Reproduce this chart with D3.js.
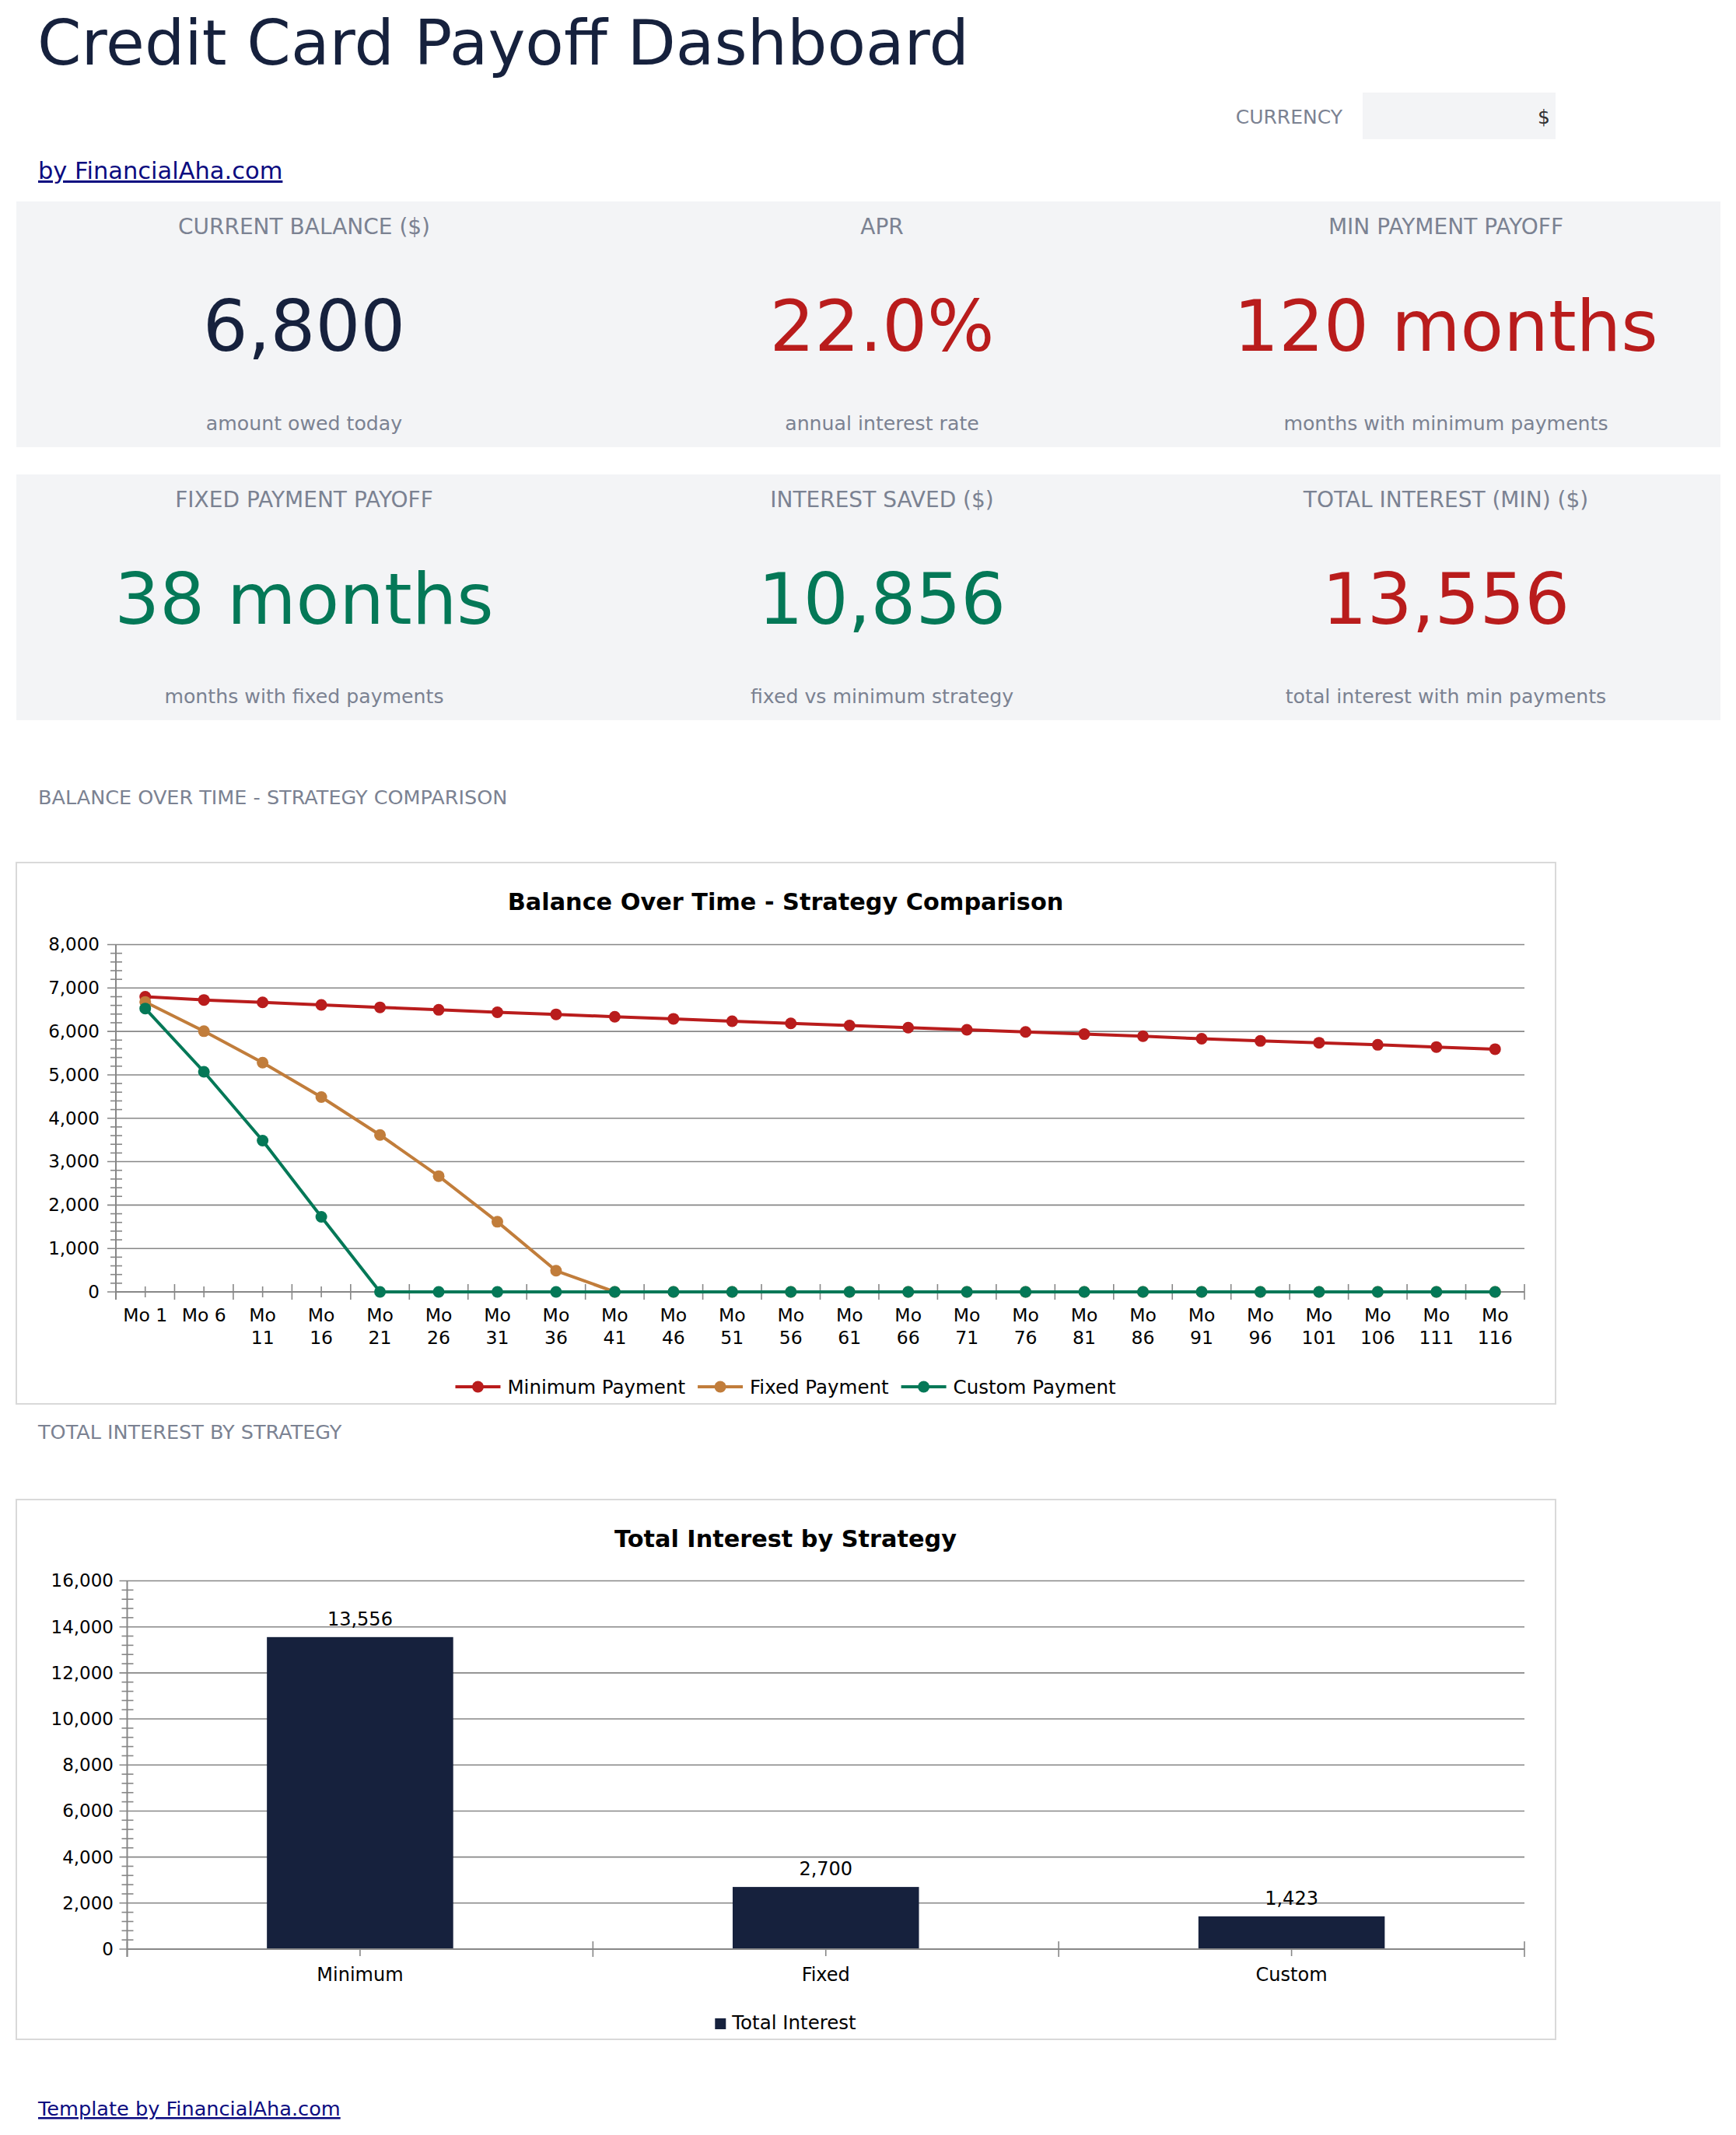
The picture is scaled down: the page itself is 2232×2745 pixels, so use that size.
<!DOCTYPE html>
<html>
<head>
<meta charset="utf-8">
<script src="https://cdn.jsdelivr.net/npm/d3@7"></script>
<style>
  body { margin: 0; background: #fff; }
  svg { display: block; font-family: "DejaVu Sans", sans-serif; }
</style>
</head>
<body>
<svg id="page"></svg>
<script>
// ---- data ----
const currency = "$";

const kpiLabels = ["CURRENT BALANCE ($)", "APR", "MIN PAYMENT PAYOFF",
                   "FIXED PAYMENT PAYOFF", "INTEREST SAVED ($)", "TOTAL INTEREST (MIN) ($)"];
const kpiValues = ["6,800", "22.0%", "120 months", "38 months", "10,856", "13,556"];
const kpiNotes  = ["amount owed today", "annual interest rate", "months with minimum payments",
                   "months with fixed payments", "fixed vs minimum strategy", "total interest with min payments"];

const months = ["Mo 1", "Mo 6", "Mo 11", "Mo 16", "Mo 21", "Mo 26", "Mo 31", "Mo 36",
                "Mo 41", "Mo 46", "Mo 51", "Mo 56", "Mo 61", "Mo 66", "Mo 71", "Mo 76",
                "Mo 81", "Mo 86", "Mo 91", "Mo 96", "Mo 101", "Mo 106", "Mo 111", "Mo 116"];
const minimumPayment = [6800, 6725, 6670, 6612, 6555, 6498, 6441, 6394, 6338, 6291, 6235, 6186,
                        6136, 6087, 6037, 5988, 5938, 5889, 5831, 5781, 5740, 5691, 5641, 5592];
const fixedPayment   = [6680, 6005, 5280, 4488, 3615, 2667, 1615, 488, 0, 0, 0, 0,
                        0, 0, 0, 0, 0, 0, 0, 0, 0, 0, 0, 0];
const customPayment  = [6528, 5070, 3484, 1728, 0, 0, 0, 0, 0, 0, 0, 0,
                        0, 0, 0, 0, 0, 0, 0, 0, 0, 0, 0, 0];
const lineSeries = ["Minimum Payment", "Fixed Payment", "Custom Payment"];

const strategies = ["Minimum", "Fixed", "Custom"];
const totalInterest = [13556, 2700, 1423];

// ---- styles ----
const NAVY = "#16213d", RED = "#b91c1c", GREEN = "#047857", ORANGE = "#c17d3b";
const GRAY = "#7b8292", LINK = "#0c0c80", AXIS = "#878787", CARD = "#f3f4f6";
const kpiColor = [NAVY, RED, RED, GREEN, GREEN, RED];
const seriesColor = [RED, ORANGE, GREEN];

const svg = d3.select("#page").attr("width", 2232).attr("height", 2745);
const fmt = d3.format(",");

// ---- header ----
svg.append("text").attr("x", 48).attr("y", 83).attr("font-size", 81)
  .attr("fill", NAVY).text("Credit Card Payoff Dashboard");
svg.append("text").attr("x", 1726).attr("y", 159).attr("text-anchor", "end")
  .attr("font-size", 25).attr("fill", GRAY).text("CURRENCY");
svg.append("rect").attr("x", 1752).attr("y", 119).attr("width", 248).attr("height", 60).attr("fill", CARD);
svg.append("text").attr("x", 1993).attr("y", 159).attr("text-anchor", "end")
  .attr("font-size", 25).attr("fill", "#333").text(currency);
svg.append("text").attr("x", 49).attr("y", 230).attr("font-size", 30.5).attr("fill", LINK)
  .attr("text-decoration", "underline").text("by FinancialAha.com");

// ---- KPI cards ----
const rowTop = [259, 610];
const colMid = [391, 1134, 1859];
rowTop.forEach(t => svg.append("rect").attr("x", 21).attr("y", t)
  .attr("width", 2191).attr("height", 316).attr("fill", CARD));

kpiLabels.forEach((lab, i) => {
  const t = rowTop[Math.floor(i / 3)], cx = colMid[i % 3];
  svg.append("text").attr("x", cx).attr("y", t + 42).attr("text-anchor", "middle")
    .attr("font-size", 28).attr("fill", GRAY).text(lab);
  svg.append("text").attr("x", cx).attr("y", t + 192).attr("text-anchor", "middle")
    .attr("font-size", 91).attr("fill", kpiColor[i]).text(kpiValues[i]);
  svg.append("text").attr("x", cx).attr("y", t + 294).attr("text-anchor", "middle")
    .attr("font-size", 25.2).attr("fill", GRAY).text(kpiNotes[i]);
});

// ---- section labels ----
svg.append("text").attr("x", 49).attr("y", 1034).attr("font-size", 25.5).attr("fill", GRAY)
  .text("BALANCE OVER TIME - STRATEGY COMPARISON");
svg.append("text").attr("x", 49).attr("y", 1850).attr("font-size", 25.5).attr("fill", GRAY)
  .text("TOTAL INTEREST BY STRATEGY");

function chartBox(top, h, title) {
  svg.append("rect").attr("x", 21).attr("y", top).attr("width", 1979).attr("height", h)
    .attr("fill", "#fff").attr("stroke", "#d9d9d9").attr("stroke-width", 2);
  svg.append("text").attr("x", 1010).attr("y", top + 61).attr("text-anchor", "middle")
    .attr("font-size", 30.3).attr("font-weight", "bold").attr("fill", "#000").text(title);
}

function yAxisWithGrid(g, y, left, right, step, minorStep, tickOut, pad) {
  const max = y.domain()[1];
  const major = d3.range(0, max + 1, step);
  const minor = d3.range(0, max + 1, minorStep).filter(v => v % step !== 0);
  g.append("g").selectAll("line").data(major).join("line")
    .attr("x1", left - tickOut).attr("x2", right).attr("y1", d => y(d)).attr("y2", d => y(d))
    .attr("stroke", AXIS).attr("stroke-width", 1.6);
  g.append("g").selectAll("line").data(minor).join("line")
    .attr("x1", left - 7).attr("x2", left + 8).attr("y1", d => y(d)).attr("y2", d => y(d))
    .attr("stroke", AXIS).attr("stroke-width", 1.6);
  g.append("line").attr("x1", left).attr("x2", left)
    .attr("y1", y(max)).attr("y2", y(0) + 10).attr("stroke", AXIS).attr("stroke-width", 2);
  g.append("g").attr("transform", `translate(${left},0)`)
    .call(d3.axisLeft(y).tickValues(major).tickSize(0).tickPadding(tickOut + pad).tickFormat(fmt))
    .call(a => a.select(".domain").remove())
    .call(a => a.selectAll("text").attr("font-size", 23).attr("fill", "#000")
      .attr("font-family", "DejaVu Sans"));
}

// ---- line chart ----
chartBox(1109, 696, "Balance Over Time - Strategy Comparison");
const lc = svg.append("g");
const x1 = d3.scaleBand().domain(months).range([149, 1960]);
const y1 = d3.scaleLinear().domain([0, 8000]).range([1661, 1214.5]);
yAxisWithGrid(lc, y1, 149, 1960, 1000, 200, 11, 10);

lc.append("line").attr("x1", 149).attr("x2", 1960).attr("y1", y1(0)).attr("y2", y1(0))
  .attr("stroke", AXIS).attr("stroke-width", 2);
const bounds1 = months.map(m => x1(m)).concat([x1.range()[1]]);
lc.append("g").selectAll("line").data(bounds1).join("line")
  .attr("x1", d => d).attr("x2", d => d).attr("y1", y1(0) - 10).attr("y2", y1(0) + 10)
  .attr("stroke", AXIS).attr("stroke-width", 1.6);
lc.append("g").selectAll("line").data(months).join("line")
  .attr("x1", d => x1(d) + x1.bandwidth() / 2).attr("x2", d => x1(d) + x1.bandwidth() / 2)
  .attr("y1", y1(0) - 7).attr("y2", y1(0) + 7).attr("stroke", AXIS).attr("stroke-width", 1.6);

const xl = lc.append("g").selectAll("text").data(months).join("text")
  .attr("x", d => x1(d) + x1.bandwidth() / 2).attr("y", 1699)
  .attr("text-anchor", "middle").attr("font-size", 23.5).attr("fill", "#000");
xl.each(function (d) {
  const el = d3.select(this);
  const parts = d.length > 4 ? d.split(" ") : [d];
  parts.forEach((p, k) => el.append("tspan")
    .attr("x", x1(d) + x1.bandwidth() / 2).attr("dy", k === 0 ? 0 : 29).text(p));
});

const series = [minimumPayment, fixedPayment, customPayment];
const cx1 = (d, i) => x1(months[i]) + x1.bandwidth() / 2;
const line = d3.line().x(cx1).y(d => y1(d));
series.forEach((vals, s) => {
  const g = lc.append("g");
  g.append("path").attr("d", line(vals)).attr("fill", "none")
    .attr("stroke", seriesColor[s]).attr("stroke-width", 4).attr("stroke-linejoin", "round");
  g.selectAll("circle").data(vals).join("circle")
    .attr("cx", cx1).attr("cy", d => y1(d)).attr("r", 7.5).attr("fill", seriesColor[s]);
});

// legend
const lg = lc.append("g");
let lx = 0;
lineSeries.forEach((name, s) => {
  const item = lg.append("g").attr("transform", `translate(${lx},0)`);
  item.append("line").attr("x1", 0).attr("x2", 58).attr("y1", 1783).attr("y2", 1783)
    .attr("stroke", seriesColor[s]).attr("stroke-width", 4);
  item.append("circle").attr("cx", 29).attr("cy", 1783).attr("r", 7.5).attr("fill", seriesColor[s]);
  const t = item.append("text").attr("x", 67).attr("y", 1792).attr("font-size", 24.5)
    .attr("fill", "#000").text(name);
  lx += 67 + t.node().getComputedTextLength() + 16;
});
lx -= 16;
lg.attr("transform", `translate(${1010 - lx / 2},0)`);

// ---- bar chart ----
chartBox(1928, 694, "Total Interest by Strategy");
const bc = svg.append("g");
const x2 = d3.scaleBand().domain(strategies).range([163.5, 1960]).paddingInner(0.6).paddingOuter(0.3);
const y2 = d3.scaleLinear().domain([0, 16000]).range([2506, 2032.5]);
yAxisWithGrid(bc, y2, 163.5, 1960, 2000, 400, 10, 7.5);

bc.selectAll("rect.bar").data(totalInterest).join("rect").attr("class", "bar")
  .attr("x", (d, i) => x2(strategies[i])).attr("width", x2.bandwidth())
  .attr("y", d => y2(d)).attr("height", d => y2(0) - y2(d)).attr("fill", NAVY);

bc.append("line").attr("x1", 163.5).attr("x2", 1960).attr("y1", y2(0)).attr("y2", y2(0))
  .attr("stroke", AXIS).attr("stroke-width", 2);
const catW = (1960 - 163.5) / strategies.length;
const bounds2 = d3.range(strategies.length + 1).map(i => 163.5 + i * catW);
bc.append("g").selectAll("line").data(bounds2).join("line")
  .attr("x1", d => d).attr("x2", d => d).attr("y1", y2(0) - 10).attr("y2", y2(0) + 10)
  .attr("stroke", AXIS).attr("stroke-width", 1.6);
const mid2 = d => x2(d) + x2.bandwidth() / 2;
bc.append("g").selectAll("line").data(strategies).join("line")
  .attr("x1", mid2).attr("x2", mid2).attr("y1", y2(0)).attr("y2", y2(0) + 9)
  .attr("stroke", AXIS).attr("stroke-width", 1.6);
bc.append("g").selectAll("text").data(strategies).join("text")
  .attr("x", mid2).attr("y", 2547).attr("text-anchor", "middle")
  .attr("font-size", 24).attr("fill", "#000").text(d => d);
bc.append("g").selectAll("text").data(totalInterest).join("text")
  .attr("x", (d, i) => mid2(strategies[i])).attr("y", d => y2(d) - 15)
  .attr("text-anchor", "middle").attr("font-size", 24).attr("fill", "#000").text(d => fmt(d));

const bl = bc.append("g");
bl.append("rect").attr("x", 0).attr("y", 2595).attr("width", 14).attr("height", 14).attr("fill", NAVY);
const blt = bl.append("text").attr("x", 22).attr("y", 2609).attr("font-size", 24.5)
  .attr("fill", "#000").text("Total Interest");
const blw = 22 + blt.node().getComputedTextLength();
bl.attr("transform", `translate(${1010 - blw / 2},0)`);

// ---- footer ----
svg.append("text").attr("x", 49).attr("y", 2720).attr("font-size", 25.6).attr("fill", LINK)
  .attr("text-decoration", "underline").text("Template by FinancialAha.com");
</script>
</body>
</html>
